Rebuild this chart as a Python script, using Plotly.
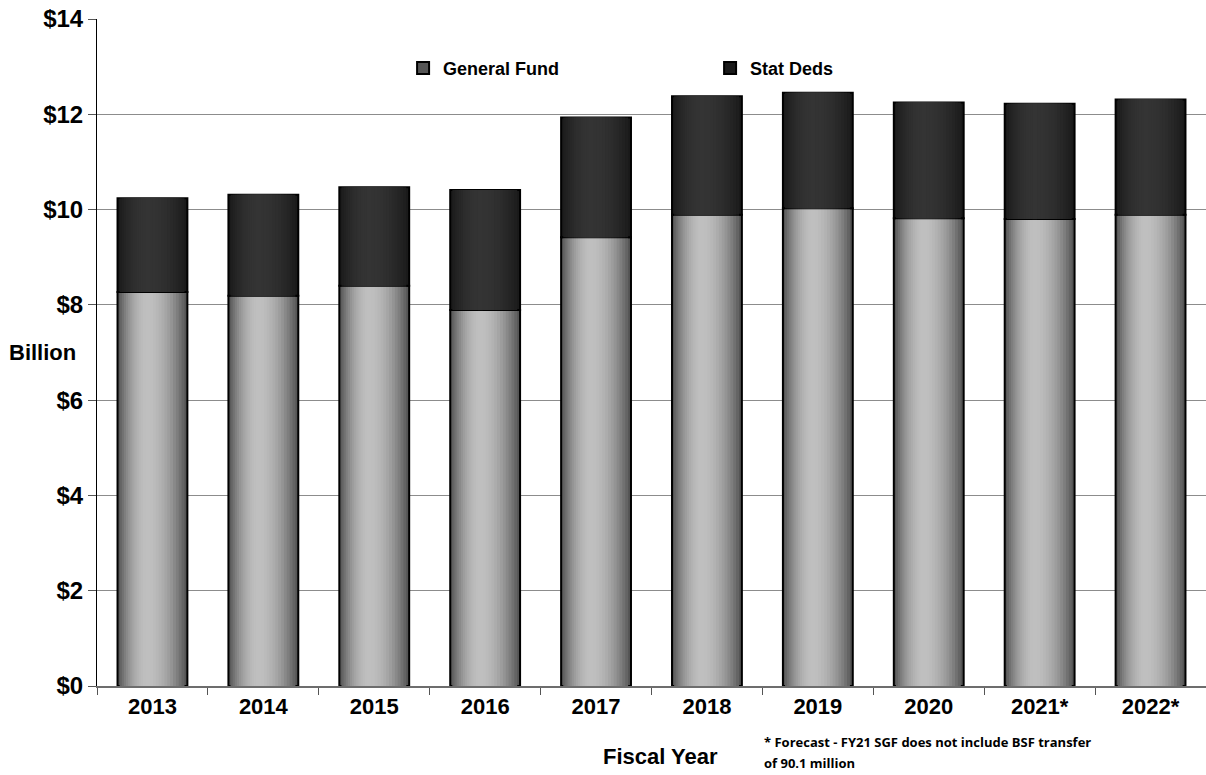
import plotly.graph_objects as go

# Fiscal years and fund amounts ($ billions)
years = ["2013", "2014", "2015", "2016", "2017", "2018", "2019", "2020", "2021*", "2022*"]
general_fund = [8.27, 8.19, 8.40, 7.89, 9.42, 9.89, 10.03, 9.82, 9.80, 9.89]
stat_deds = [1.97, 2.12, 2.07, 2.52, 2.51, 2.49, 2.42, 2.43, 2.42, 2.42]
y_ticks = [0, 2, 4, 6, 8, 10, 12, 14]
footnote = ["* Forecast - FY21 SGF does not include BSF transfer", "of 90.1 million"]

FONT = "Liberation Sans, Arial, Helvetica, sans-serif"
NOTE_FONT = "Open Sans, Noto Sans, sans-serif"
BAR_W = 0.63
LAYERS = 14
SHIFT = 0.15  # moves the highlight slightly left of centre


def shade(edge, centre, d):
    """Grey level for normalised distance d (0 = centre, 1 = edge)."""
    t = d ** 2
    v = round(centre + (edge - centre) * t)
    return f"rgb({v},{v},{v})"


def cylinder(name, values, base, edge, centre, legend_col):
    traces = []
    half = BAR_W / 2
    for k in range(LAYERS):
        d = 1 - k / LAYERS
        h = half * d
        off = -h - SHIFT * (half - h)
        outer = k == 0
        traces.append(go.Bar(
            x=years, y=values, base=base,
            width=2 * h, offset=off,
            name=name,
            marker=dict(
                color=shade(edge, centre, d),
                line=dict(color="#000000", width=2 if outer else 0),
            ),
            showlegend=outer,
            legendrank=legend_col,
            hoverinfo="skip" if not outer else None,
        ))
    return traces


fig = go.Figure()
for t in cylinder("General Fund", general_fund, [0] * len(years), 85, 192, 1):
    fig.add_trace(t)
for t in cylinder("Stat Deds", stat_deds, general_fund, 26, 52, 2):
    fig.add_trace(t)

note_annotations = [
    dict(text=f"<b>{line}</b>", xref="paper", yref="paper",
         x=0.5996, y=-(742 - 686) / 667 - i * 21 / 667,
         xanchor="left", yanchor="middle", align="left",
         showarrow=False, font=dict(family=NOTE_FONT, size=13))
    for i, line in enumerate(footnote)
]

fig.update_layout(
    width=1206, height=775,
    margin=dict(l=97, r=0, t=19, b=89),
    paper_bgcolor="white", plot_bgcolor="white",
    barmode="overlay",
    font=dict(family=FONT, color="black"),
    legend=dict(
        orientation="h",
        x=0.276, xanchor="left",
        y=0.926, yanchor="middle",
        font=dict(family=FONT, size=18, weight="bold"),
        entrywidth=262,
        bgcolor="rgba(0,0,0,0)",
        traceorder="normal",
    ),
    xaxis=dict(
        type="category",
        tickfont=dict(family=FONT, size=22, weight="bold"),
        showgrid=False,
        showline=True, linecolor="#6d6d6d", linewidth=2,
        ticks="outside", tickson="boundaries", ticklen=7,
        tickcolor="#555555", tickwidth=1,
        range=[-0.5, len(years) - 0.5],
    ),
    yaxis=dict(
        range=[0, 14],
        tickvals=y_ticks,
        ticktext=[f"${v}" for v in y_ticks],
        tickfont=dict(family=FONT, size=24, weight="bold"),
        showgrid=True, gridcolor="#8c8c8c", gridwidth=1,
        showline=True, linecolor="black", linewidth=1,
        ticks="outside", ticklen=8, tickcolor="#555555",
        zeroline=False,
    ),
    annotations=[
        dict(text="<b>Billion</b>", xref="paper", yref="paper",
             x=-0.0487, y=0.5007, xanchor="center", yanchor="middle",
             showarrow=False, font=dict(family=FONT, size=22)),
        dict(text="<b>Fiscal Year</b>", xref="paper", yref="paper",
             x=0.5077, y=-0.1064, xanchor="center", yanchor="middle",
             showarrow=False, font=dict(family=FONT, size=22)),
    ] + note_annotations,
)

fig.write_html("out.html")
